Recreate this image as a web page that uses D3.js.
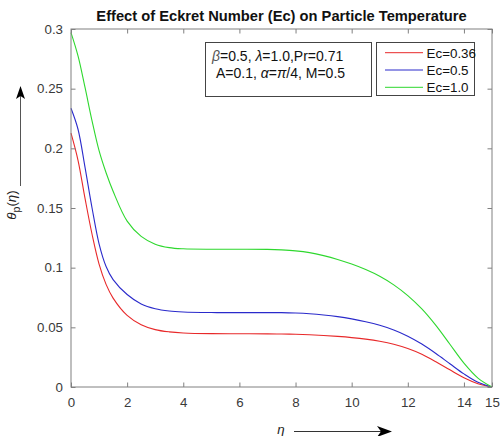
<!DOCTYPE html>
<html><head><meta charset="utf-8">
<script src="https://cdn.jsdelivr.net/npm/d3@7"></script>
<style>body{margin:0;background:#fff}svg{display:block}</style>
</head><body><svg id="c" width="501" height="436"></svg>
<script>
const eta = [0,0.25,0.5,0.75,1,1.25,1.5,2,2.5,3,3.5,4,5,6,7,7.5,8,8.5,9,9.5,10,10.5,11,11.5,12,12.5,13,13.5,14,14.5,15];
const ec036 = [0.2127,0.190,0.158,0.128,0.103,0.086,0.0745,0.060,0.0522,0.0481,0.0462,0.0453,0.0447,0.0446,0.0445,0.0444,0.0442,0.0438,0.0432,0.0424,0.0414,0.0401,0.0383,0.0358,0.0322,0.0274,0.0212,0.0144,0.0078,0.0028,0];
const ec05  = [0.2336,0.216,0.184,0.150,0.120,0.101,0.090,0.0775,0.0696,0.0656,0.0637,0.0629,0.0624,0.0623,0.0623,0.0623,0.0620,0.0614,0.0604,0.0590,0.0571,0.0547,0.0517,0.0478,0.0426,0.0360,0.0281,0.0195,0.0110,0.0040,0];
const ec10  = [0.297,0.2775,0.251,0.223,0.198,0.1795,0.164,0.139,0.1262,0.1197,0.1168,0.1158,0.1154,0.1154,0.1153,0.1149,0.1141,0.1126,0.1101,0.1069,0.1030,0.0984,0.0928,0.0856,0.0766,0.0654,0.0516,0.0358,0.0200,0.0075,0];
const seriesNames = ["Ec=0.36","Ec=0.5","Ec=1.0"];
const seriesColors = ["#e8292a","#2a2acb","#2ed82e"];
const xTicks = [0,2,4,6,8,10,12,14,15];
const yTicks = [0,0.05,0.1,0.15,0.2,0.25,0.3];
const yTickLabels = ["0","0.05","0.1","0.15","0.2","0.25","0.3"];

const svg = d3.select("#c");
const L=71, R=492, T=29, B=387;
const x = d3.scaleLinear().domain([0,15]).range([L,R]);
const y = d3.scaleLinear().domain([0,0.3]).range([B,T]);
const axisCol="#808080", txtCol="#3a3a3a", font="'Liberation Sans', Arial, sans-serif";

// lines
const data=[ec036,ec05,ec10];
const line = d3.line().x((d,i)=>x(eta[i])).y(d=>y(d)).curve(d3.curveCatmullRom.alpha(0.5));
data.forEach((s,k)=>{
  svg.append("path").attr("d",line(s)).attr("fill","none").attr("stroke",seriesColors[k]).attr("stroke-width",1.1);
});

// axes
const tl=4.5;
const gB=svg.append("g").attr("transform",`translate(0,${B})`).call(d3.axisBottom(x).tickValues(xTicks).tickSize(-tl).tickPadding(11).tickFormat(d3.format("d")));
const gT=svg.append("g").attr("transform",`translate(0,${T})`).call(d3.axisTop(x).tickValues(xTicks).tickSize(-tl).tickFormat(""));
const gL=svg.append("g").attr("transform",`translate(${L},0)`).call(d3.axisLeft(y).tickValues(yTicks).tickSize(-tl).tickPadding(8).tickFormat((d,i)=>yTickLabels[i]));
const gR=svg.append("g").attr("transform",`translate(${R},0)`).call(d3.axisRight(y).tickValues(yTicks).tickSize(-tl).tickFormat(""));
[gB,gT,gL,gR].forEach(g=>{
  g.select(".domain").remove();
  g.selectAll(".tick line").attr("stroke",axisCol);
  g.selectAll(".tick text").attr("fill",txtCol).style("font-family",font).style("font-size","13.3px");
});
svg.append("rect").attr("x",L).attr("y",T).attr("width",R-L).attr("height",B-T).attr("fill","none").attr("stroke",axisCol).attr("stroke-width",1);

// title
svg.append("text").attr("x",(L+R)/2).attr("y",20.5).attr("text-anchor","middle")
  .style("font-family",font).style("font-size","14.7px").style("font-weight","bold").attr("fill","#111")
  .text("Effect of Eckret Number (Ec) on Particle Temperature");

// annotation box
svg.append("rect").attr("x",205.5).attr("y",42.5).attr("width",166).attr("height",54).attr("fill","#fff").attr("stroke","#444");
const a1=svg.append("text").attr("x",212).attr("y",60.5).style("font-family",font).style("font-size","14px").attr("fill","#111");
a1.append("tspan").style("font-style","italic").attr("fill","#555").text("β");
a1.append("tspan").text("=0.5, ");
a1.append("tspan").style("font-style","italic").text("λ");
a1.append("tspan").text("=1.0,Pr=0.71");
const a2=svg.append("text").attr("x",216).attr("y",78).style("font-family",font).style("font-size","14px").attr("fill","#111");
a2.append("tspan").text("A=0.1, ");
a2.append("tspan").style("font-style","italic").text("α");
a2.append("tspan").text("=");
a2.append("tspan").style("font-style","italic").text("π");
a2.append("tspan").text("/4, M=0.5");

// legend
svg.append("rect").attr("x",376.5).attr("y",42.5).attr("width",98).attr("height",53).attr("fill","#fff").attr("stroke","#444");
seriesNames.forEach((n,k)=>{
  const yy=52.7+k*17.3;
  svg.append("line").attr("x1",385).attr("x2",423).attr("y1",yy).attr("y2",yy).attr("stroke",seriesColors[k]).attr("stroke-width",1);
  svg.append("text").attr("x",426.5).attr("y",yy+4.8).style("font-family",font).style("font-size","13.4px").attr("fill","#111").text(n);
});

// y label
const yl=svg.append("text").attr("transform","translate(16,205) rotate(-90)").attr("text-anchor","middle")
  .style("font-family",font).style("font-size","13.3px").attr("fill","#222");
yl.append("tspan").style("font-style","italic").text("θ");
yl.append("tspan").attr("dy",4).style("font-size","10.5px").text("p");
yl.append("tspan").attr("dy",-4).text("(");
yl.append("tspan").style("font-style","italic").text("η");
yl.append("tspan").text(")");
// y arrow
svg.append("line").attr("x1",20.5).attr("x2",20.5).attr("y1",186).attr("y2",96).attr("stroke","#555").attr("stroke-width",1);
svg.append("path").attr("d","M20.5,86 L25,99 L20.5,96 L16,99 Z").attr("fill","#000");

// x label
svg.append("text").attr("x",281).attr("y",434).attr("text-anchor","middle")
  .style("font-family",font).style("font-size","13.3px").style("font-style","italic").attr("fill","#222").text("η");
svg.append("line").attr("x1",294).attr("x2",383).attr("y1",431.5).attr("y2",431.5).attr("stroke","#333").attr("stroke-width",1.2);
svg.append("path").attr("d","M392,431.5 L377,426 L381,431.5 L377,437 Z").attr("fill","#000");
</script></body></html>
